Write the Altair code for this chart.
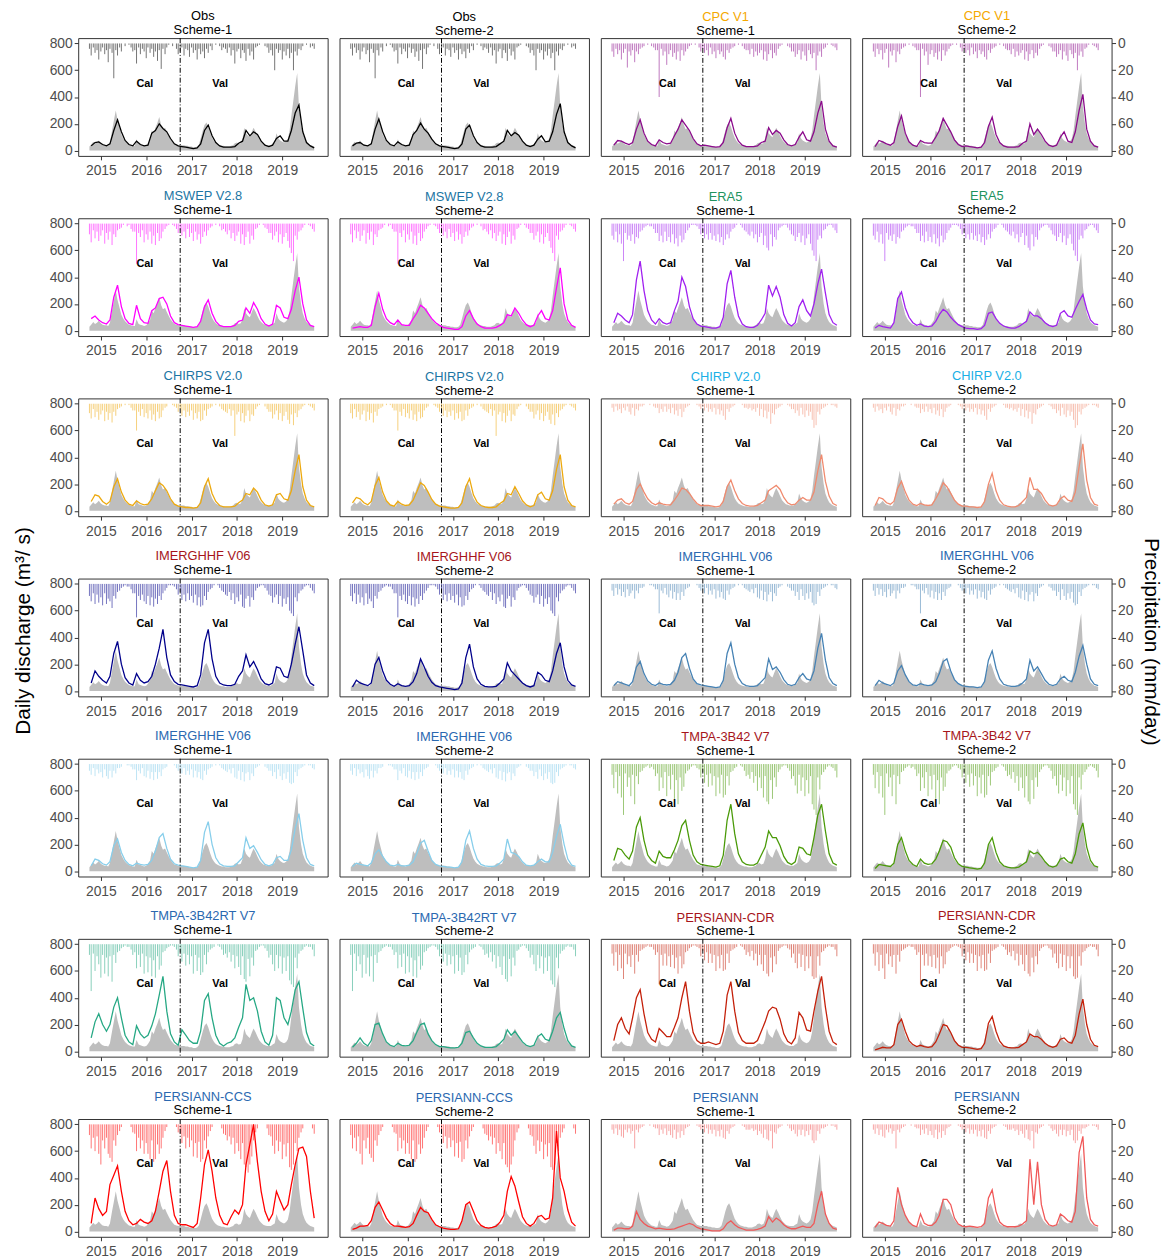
import altair as alt
import numpy as np
import pandas as pd

# ---------------------------------------------------------------------------
# Time axes: rainfall and observed flow every half month, simulations monthly
# ---------------------------------------------------------------------------
half_dates = pd.date_range("2014-10-01", "2019-09-30", freq="SMS")
month_dates = pd.date_range("2014-10-01", periods=60, freq="MS") + pd.Timedelta(days=14)


def dec_year(d):
    days = np.where(d.is_leap_year, 366, 365)
    return d.year + (d.dayofyear - 1) / days


half_t = dec_year(half_dates)
month_t = dec_year(month_dates)

# observed daily discharge (m3/s), hydrological years Oct-Sep
obs_flow = (
    [30, 45, 65, 50, 60, 75, 55, 45, 40, 40, 35, 60, 150, 220, 300, 230, 170, 120, 90, 70, 55, 45, 40, 35]
    + [35, 85, 50, 45, 40, 35, 40, 55, 80, 150, 130, 170, 210, 250, 190, 160, 170, 140, 110, 85, 65, 50, 45, 40]
    + [40, 40, 40, 35, 35, 30, 30, 25, 25, 30, 45, 90, 150, 190, 210, 180, 130, 95, 70, 55, 45, 40, 35, 35]
    + [30, 30, 30, 35, 40, 55, 60, 50, 55, 90, 170, 130, 110, 100, 140, 170, 140, 110, 80, 65, 50, 45, 40, 40]
    + [40, 50, 60, 130, 90, 75, 65, 60, 70, 90, 150, 260, 380, 480, 580, 330, 200, 130, 90, 65, 50, 40, 35, 30]
)

# product name, title colour, series colour
products = [
    ("Obs", "#000000", "#000000"),
    ("CPC V1", "#F5A800", "#8B0A8B"),
    ("MSWEP V2.8", "#1B75A3", "#FF00FF"),
    ("ERA5", "#21925E", "#A020F0"),
    ("CHIRPS V2.0", "#1B75A3", "#EDA90E"),
    ("CHIRP V2.0", "#1AAFE6", "#F08A6E"),
    ("IMERGHHF V06", "#A6151B", "#00008B"),
    ("IMERGHHL V06", "#2A68B0", "#4682B4"),
    ("IMERGHHE V06", "#2A68B0", "#87CEEB"),
    ("TMPA-3B42 V7", "#A6151B", "#4A9A08"),
    ("TMPA-3B42RT V7", "#2A68B0", "#26A884"),
    ("PERSIANN-CDR", "#A6151B", "#C4200A"),
    ("PERSIANN-CCS", "#2A68B0", "#FF0000"),
    ("PERSIANN", "#2A68B0", "#F05858"),
]

# simulated discharge (m3/s), monthly, Oct 2014 - Sep 2019
sim_flow = {
    ("Obs", "Scheme-1"): [
        35, 60, 65, 45, 35, 50, 150, 230, 140, 75, 45, 35,
        70, 45, 35, 40, 130, 150, 200, 165, 140, 90, 50, 35,
        30, 25, 20, 15, 20, 50, 150, 190, 110, 60, 35, 25,
        25, 25, 30, 55, 70, 150, 110, 140, 120, 70, 40, 30,
        40, 90, 110, 70, 70, 150, 280, 340, 140, 60, 35, 20],
    ("Obs", "Scheme-2"): [
        35, 55, 60, 40, 35, 50, 160, 235, 140, 75, 45, 35,
        65, 45, 35, 40, 120, 150, 205, 160, 130, 85, 50, 35,
        30, 25, 20, 15, 20, 50, 160, 190, 110, 60, 35, 25,
        25, 25, 30, 50, 70, 150, 110, 135, 115, 70, 40, 30,
        40, 85, 110, 65, 70, 140, 270, 350, 140, 60, 35, 20],
    ("CPC V1", "Scheme-1"): [
        40, 75, 70, 55, 45, 60, 160, 230, 130, 70, 45, 35,
        80, 60, 50, 55, 110, 160, 230, 190, 150, 90, 50, 35,
        40, 35, 30, 25, 30, 60, 170, 240, 130, 70, 40, 30,
        30, 30, 35, 60, 70, 170, 120, 150, 130, 80, 45, 35,
        45, 100, 140, 80, 70, 140, 280, 370, 160, 70, 35, 25],
    ("CPC V1", "Scheme-2"): [
        30, 75, 65, 50, 40, 60, 180, 260, 130, 65, 40, 30,
        75, 60, 55, 55, 100, 150, 240, 190, 140, 80, 45, 30,
        35, 30, 25, 20, 25, 60, 180, 250, 120, 60, 35, 25,
        25, 25, 30, 55, 70, 200, 120, 160, 120, 70, 40, 30,
        40, 100, 140, 70, 60, 140, 300, 420, 160, 70, 35, 25],
    ("MSWEP V2.8", "Scheme-1"): [
        90, 110, 80, 60, 50, 80, 250, 340, 180, 90, 55, 45,
        190, 90, 60, 55, 150, 170, 240, 250, 200, 110, 60, 45,
        40, 35, 30, 25, 30, 70, 180, 230, 130, 70, 40, 30,
        30, 30, 40, 70, 80, 170, 130, 210, 160, 90, 50, 35,
        50, 190, 170, 100, 90, 160, 300, 400, 200, 80, 40, 30],
    ("MSWEP V2.8", "Scheme-2"): [
        20, 25, 30, 25, 25, 40, 180, 280, 160, 90, 60, 45,
        80, 45, 40, 40, 90, 130, 190, 170, 130, 90, 60, 40,
        25, 20, 15, 10, 10, 30, 110, 150, 90, 50, 30, 20,
        20, 20, 25, 40, 60, 120, 110, 170, 130, 80, 45, 30,
        40, 110, 150, 90, 80, 150, 320, 470, 200, 80, 40, 25],
    ("ERA5", "Scheme-1"): [
        60, 130, 110, 80, 60, 120, 380, 520, 300, 150, 80, 50,
        90, 60, 50, 60, 150, 220, 400, 330, 180, 90, 50, 35,
        30, 25, 20, 20, 30, 100, 350, 450, 250, 110, 50, 30,
        25, 25, 40, 80, 130, 340, 260, 330, 250, 120, 55, 35,
        60, 180, 230, 150, 110, 200, 350, 460, 280, 120, 60, 40],
    ("ERA5", "Scheme-2"): [
        20, 40, 30, 25, 20, 60, 240, 290, 170, 100, 60, 40,
        50, 35, 30, 35, 70, 120, 160, 140, 100, 70, 45, 30,
        20, 15, 15, 10, 15, 40, 130, 140, 90, 55, 35, 25,
        20, 20, 30, 50, 70, 140, 110, 110, 90, 60, 40, 30,
        40, 130, 150, 110, 100, 160, 220, 270, 160, 80, 50, 45],
    ("CHIRPS V2.0", "Scheme-1"): [
        70, 120, 110, 70, 50, 70, 180, 240, 140, 80, 50, 40,
        75, 55, 45, 50, 90, 150, 210, 190, 150, 90, 50, 35,
        30, 25, 25, 20, 25, 60, 180, 240, 130, 70, 40, 30,
        30, 30, 35, 60, 80, 130, 120, 170, 140, 80, 45, 35,
        45, 120, 130, 90, 80, 150, 300, 420, 180, 80, 40, 30],
    ("CHIRPS V2.0", "Scheme-2"): [
        60, 100, 90, 60, 45, 70, 190, 250, 140, 75, 45, 35,
        70, 50, 40, 45, 80, 140, 210, 190, 140, 85, 50, 35,
        30, 25, 20, 20, 25, 60, 180, 240, 120, 65, 40, 30,
        25, 25, 30, 55, 75, 130, 120, 180, 130, 75, 45, 30,
        40, 120, 140, 90, 80, 150, 310, 420, 180, 80, 40, 30],
    ("CHIRP V2.0", "Scheme-1"): [
        50, 80, 90, 60, 50, 70, 160, 200, 140, 90, 60, 45,
        60, 50, 45, 45, 80, 120, 170, 160, 130, 90, 55, 40,
        40, 40, 35, 30, 35, 70, 180, 230, 150, 90, 55, 40,
        35, 35, 40, 60, 80, 150, 170, 190, 160, 100, 60, 45,
        50, 80, 100, 80, 80, 140, 300, 420, 220, 110, 55, 40],
    ("CHIRP V2.0", "Scheme-2"): [
        40, 100, 90, 60, 50, 70, 170, 220, 140, 80, 50, 40,
        55, 45, 40, 45, 90, 140, 210, 180, 130, 80, 50, 35,
        35, 30, 30, 25, 30, 70, 200, 280, 150, 80, 45, 35,
        30, 30, 40, 70, 100, 250, 160, 160, 130, 80, 45, 35,
        45, 90, 110, 80, 70, 140, 330, 500, 230, 100, 50, 40],
    ("IMERGHHF V06", "Scheme-1"): [
        60, 150, 110, 80, 60, 110, 280, 370, 200, 100, 60, 45,
        130, 80, 60, 70, 110, 200, 320, 460, 250, 120, 70, 50,
        45, 40, 35, 30, 40, 120, 360, 460, 240, 110, 60, 45,
        40, 40, 50, 110, 150, 270, 180, 220, 160, 90, 55, 45,
        60, 180, 170, 110, 100, 200, 350, 480, 300, 120, 60, 40],
    ("IMERGHHF V06", "Scheme-2"): [
        30, 80, 60, 50, 40, 60, 200, 250, 150, 80, 50, 35,
        55, 40, 35, 40, 70, 130, 240, 180, 110, 65, 40, 30,
        25, 20, 15, 10, 15, 60, 250, 350, 180, 90, 50, 35,
        30, 30, 35, 60, 90, 210, 150, 120, 90, 60, 40, 30,
        40, 140, 120, 80, 70, 150, 280, 360, 180, 80, 45, 35],
    ("IMERGHHL V06", "Scheme-1"): [
        40, 70, 60, 50, 40, 70, 180, 220, 130, 75, 50, 40,
        60, 50, 45, 50, 80, 140, 250, 280, 170, 90, 55, 45,
        40, 35, 30, 25, 30, 80, 280, 360, 200, 100, 55, 40,
        35, 35, 40, 70, 100, 240, 160, 180, 140, 85, 50, 40,
        50, 100, 130, 90, 80, 150, 320, 430, 230, 100, 55, 40],
    ("IMERGHHL V06", "Scheme-2"): [
        40, 80, 60, 50, 40, 60, 150, 190, 120, 70, 45, 40,
        55, 45, 40, 45, 70, 130, 220, 240, 150, 85, 55, 40,
        35, 30, 30, 25, 30, 70, 230, 300, 170, 90, 50, 40,
        35, 35, 40, 60, 90, 230, 150, 180, 130, 80, 50, 40,
        50, 90, 110, 80, 70, 140, 260, 340, 200, 90, 50, 40],
    ("IMERGHHE V06", "Scheme-1"): [
        40, 90, 80, 55, 45, 70, 190, 240, 140, 80, 50, 40,
        60, 50, 45, 50, 80, 150, 250, 280, 170, 90, 55, 45,
        40, 35, 30, 25, 30, 80, 290, 370, 200, 100, 55, 40,
        35, 35, 40, 70, 100, 250, 170, 190, 140, 85, 50, 40,
        50, 100, 110, 80, 80, 160, 320, 430, 230, 100, 50, 40],
    ("IMERGHHE V06", "Scheme-2"): [
        35, 60, 50, 45, 40, 60, 130, 160, 110, 70, 45, 40,
        50, 40, 40, 45, 70, 130, 210, 230, 150, 80, 50, 40,
        35, 30, 30, 25, 30, 70, 230, 300, 170, 90, 50, 40,
        35, 35, 40, 60, 90, 240, 140, 130, 110, 70, 45, 40,
        45, 70, 90, 70, 70, 140, 260, 350, 200, 90, 45, 35],
    ("TMPA-3B42 V7", "Scheme-1"): [
        80, 170, 160, 120, 90, 150, 330, 400, 230, 120, 80, 60,
        150, 110, 100, 100, 160, 230, 340, 380, 230, 120, 70, 50,
        45, 40, 35, 30, 40, 120, 380, 500, 280, 130, 70, 50,
        45, 45, 60, 120, 180, 300, 250, 250, 190, 110, 65, 50,
        70, 180, 170, 130, 120, 250, 420, 500, 300, 130, 60, 45],
    ("TMPA-3B42 V7", "Scheme-2"): [
        20, 50, 45, 40, 35, 60, 200, 250, 150, 80, 50, 35,
        90, 60, 50, 55, 90, 150, 230, 220, 180, 100, 55, 35,
        30, 25, 20, 15, 20, 60, 200, 250, 140, 70, 40, 30,
        25, 25, 30, 50, 70, 150, 130, 140, 110, 70, 40, 30,
        40, 90, 100, 70, 60, 130, 280, 360, 180, 80, 40, 30],
    ("TMPA-3B42RT V7", "Scheme-1"): [
        100, 220, 280, 200, 150, 200, 330, 400, 250, 120, 70, 50,
        190, 130, 100, 120, 190, 280, 420, 560, 300, 130, 70, 45,
        160, 120, 80, 60, 60, 150, 380, 430, 250, 120, 60, 40,
        60, 70, 100, 180, 250, 500, 380, 400, 300, 150, 70, 45,
        120, 400, 380, 250, 200, 300, 460, 520, 320, 140, 60, 40],
    ("TMPA-3B42RT V7", "Scheme-2"): [
        30, 60, 100, 60, 40, 80, 200, 210, 130, 70, 45, 35,
        60, 45, 40, 45, 80, 140, 200, 210, 130, 80, 50, 35,
        35, 30, 25, 25, 30, 60, 140, 150, 100, 60, 40, 30,
        30, 30, 35, 60, 90, 160, 120, 150, 110, 70, 45, 35,
        45, 110, 130, 90, 80, 150, 250, 290, 170, 80, 40, 30],
    ("PERSIANN-CDR", "Scheme-1"): [
        80, 200, 250, 170, 130, 250, 400, 460, 280, 140, 90, 70,
        170, 140, 110, 110, 180, 250, 400, 520, 300, 140, 80, 60,
        60, 70, 60, 50, 60, 150, 420, 520, 300, 140, 80, 60,
        60, 60, 80, 150, 220, 300, 330, 320, 240, 130, 75, 55,
        100, 290, 250, 160, 150, 300, 450, 560, 330, 150, 70, 50],
    ("PERSIANN-CDR", "Scheme-2"): [
        10, 20, 30, 25, 25, 50, 200, 240, 150, 80, 50, 35,
        45, 35, 30, 35, 70, 130, 200, 190, 140, 80, 45, 30,
        30, 25, 20, 15, 20, 60, 210, 260, 150, 75, 40, 30,
        25, 25, 30, 50, 70, 130, 110, 110, 90, 60, 40, 30,
        40, 90, 100, 70, 60, 120, 280, 390, 200, 90, 45, 35],
    ("PERSIANN-CCS", "Scheme-1"): [
        60, 250, 170, 120, 150, 350, 420, 490, 300, 150, 80, 50,
        60, 90, 70, 60, 80, 150, 300, 450, 530, 300, 120, 60,
        50, 50, 40, 30, 60, 250, 500, 610, 450, 250, 120, 60,
        50, 110, 160, 130, 200, 500, 650, 800, 520, 300, 150, 80,
        130, 300, 230, 160, 200, 350, 500, 620, 630, 560, 300, 100],
    ("PERSIANN-CCS", "Scheme-2"): [
        15, 25, 40, 40, 45, 80, 180, 220, 160, 100, 60, 40,
        40, 35, 30, 35, 60, 120, 180, 150, 140, 90, 50, 35,
        25, 20, 15, 15, 20, 80, 200, 220, 150, 80, 45, 30,
        25, 30, 40, 70, 120, 300, 410, 340, 220, 110, 60, 40,
        60, 110, 120, 90, 100, 250, 750, 400, 300, 160, 70, 40],
    ("PERSIANN", "Scheme-1"): [
        10, 25, 25, 20, 20, 40, 150, 90, 60, 40, 30, 20,
        25, 20, 15, 15, 20, 30, 40, 50, 60, 50, 30, 20,
        15, 10, 5, 5, 5, 20, 60, 80, 50, 30, 20, 10,
        10, 10, 15, 25, 40, 110, 70, 100, 80, 50, 30, 20,
        20, 30, 40, 30, 30, 60, 200, 300, 130, 60, 25, 15],
    ("PERSIANN", "Scheme-2"): [
        30, 70, 60, 45, 40, 80, 330, 200, 120, 70, 45, 35,
        130, 60, 45, 45, 70, 120, 240, 240, 200, 100, 55, 40,
        35, 40, 35, 30, 35, 60, 250, 310, 150, 70, 45, 35,
        35, 35, 40, 55, 80, 540, 200, 520, 200, 90, 50, 40,
        50, 130, 110, 80, 70, 150, 590, 710, 250, 90, 50, 40],
}

# heaviest daily rainfall in each half month (mm/day)
rain = {
    "Obs": [
        4, 9, 3, 7, 5, 12, 6, 3, 8, 5, 14, 4, 7, 26, 5, 9, 3, 6, 0, 2, 0, 1, 3, 6,
        5, 15, 3, 8, 4, 6, 11, 3, 7, 4, 10, 6, 13, 5, 19, 4, 8, 3, 1, 0, 2, 0, 4, 8,
        6, 3, 9, 4, 5, 10, 3, 7, 5, 12, 4, 8, 6, 11, 4, 7, 2, 5, 0, 1, 0, 2, 5, 3,
        4, 7, 3, 9, 5, 15, 6, 4, 11, 5, 7, 13, 4, 9, 6, 12, 3, 2, 1, 0, 0, 2, 3, 7,
        5, 9, 20, 4, 7, 5, 12, 6, 9, 4, 11, 7, 20, 6, 9, 4, 5, 2, 0, 1, 0, 3, 2, 4],
    "CPC V1": [
        6, 10, 4, 8, 5, 12, 7, 4, 18, 6, 9, 5, 14, 6, 8, 4, 3, 2, 0, 1, 0, 2, 3, 5,
        5, 40, 4, 9, 6, 16, 8, 5, 10, 7, 12, 6, 13, 5, 9, 6, 4, 2, 1, 0, 1, 0, 3, 6,
        4, 7, 5, 9, 3, 8, 6, 11, 5, 8, 6, 10, 12, 5, 7, 4, 3, 2, 0, 1, 0, 2, 4, 5,
        5, 8, 4, 10, 6, 9, 7, 5, 12, 6, 13, 8, 5, 11, 7, 9, 4, 2, 1, 0, 0, 2, 3, 6,
        6, 10, 8, 5, 12, 6, 9, 13, 5, 8, 11, 7, 20, 9, 6, 10, 4, 3, 1, 0, 1, 2, 3, 5],
    "MSWEP V2.8": [
        8, 14, 5, 11, 6, 13, 9, 5, 15, 7, 12, 6, 16, 8, 10, 5, 4, 3, 1, 0, 2, 1, 4, 6,
        6, 30, 7, 10, 5, 14, 8, 12, 6, 15, 9, 16, 7, 13, 11, 6, 4, 2, 1, 0, 1, 2, 4, 7,
        5, 9, 6, 11, 4, 10, 7, 13, 6, 12, 8, 15, 10, 6, 9, 5, 3, 2, 0, 1, 0, 2, 5, 4,
        6, 8, 5, 11, 7, 13, 9, 6, 15, 8, 16, 10, 6, 15, 9, 12, 4, 3, 1, 0, 1, 3, 4, 7,
        7, 12, 9, 6, 14, 8, 15, 10, 7, 13, 18, 22, 28, 9, 12, 6, 5, 3, 1, 0, 1, 2, 4, 6],
    "ERA5": [
        9, 12, 6, 14, 8, 15, 28, 7, 12, 9, 13, 8, 15, 10, 11, 6, 5, 3, 2, 1, 2, 2, 4, 7,
        7, 13, 9, 14, 6, 13, 10, 14, 8, 15, 11, 17, 9, 14, 12, 7, 5, 3, 1, 1, 1, 2, 4, 8,
        6, 11, 8, 12, 7, 12, 9, 13, 8, 14, 10, 16, 12, 8, 11, 6, 4, 3, 1, 0, 1, 3, 5, 6,
        8, 9, 6, 11, 8, 14, 10, 7, 16, 9, 18, 20, 8, 17, 10, 12, 5, 3, 2, 1, 1, 3, 5, 8,
        9, 13, 10, 7, 14, 9, 16, 11, 8, 15, 20, 24, 28, 12, 9, 11, 5, 4, 2, 1, 1, 3, 5, 7],
    "CHIRPS V2.0": [
        7, 11, 4, 10, 6, 12, 8, 5, 13, 6, 12, 7, 14, 6, 9, 4, 3, 2, 0, 1, 0, 1, 3, 5,
        5, 20, 6, 9, 4, 10, 7, 11, 5, 12, 8, 13, 6, 11, 10, 5, 3, 2, 0, 0, 1, 2, 3, 6,
        4, 9, 5, 10, 6, 9, 5, 12, 7, 11, 6, 13, 12, 5, 9, 4, 3, 2, 0, 1, 0, 2, 4, 5,
        6, 7, 4, 9, 5, 24, 8, 6, 13, 7, 14, 9, 5, 13, 8, 9, 4, 2, 1, 0, 0, 2, 4, 6,
        6, 11, 8, 5, 12, 7, 13, 9, 6, 12, 15, 8, 16, 7, 10, 5, 4, 2, 1, 0, 1, 2, 3, 5],
    "CHIRP V2.0": [
        3, 6, 2, 5, 4, 7, 3, 5, 2, 6, 8, 3, 9, 4, 5, 2, 2, 1, 0, 0, 1, 0, 2, 3,
        3, 7, 4, 6, 2, 6, 4, 7, 3, 8, 5, 9, 4, 10, 6, 3, 2, 1, 0, 0, 0, 1, 2, 4,
        2, 5, 3, 6, 4, 6, 3, 8, 4, 8, 5, 9, 12, 4, 6, 3, 2, 1, 0, 0, 0, 1, 3, 3,
        4, 3, 5, 4, 6, 3, 9, 4, 10, 5, 11, 6, 15, 7, 8, 4, 3, 2, 1, 0, 0, 1, 2, 4,
        4, 7, 5, 9, 3, 8, 10, 5, 9, 6, 12, 18, 16, 6, 8, 4, 3, 2, 1, 0, 1, 1, 2, 3],
    "IMERGHHF V06": [
        9, 13, 7, 15, 8, 14, 10, 16, 7, 15, 11, 13, 18, 9, 11, 6, 5, 3, 2, 1, 2, 2, 4, 7,
        7, 25, 9, 12, 8, 13, 15, 9, 16, 10, 17, 11, 15, 9, 12, 7, 5, 3, 1, 1, 1, 2, 4, 8,
        6, 12, 8, 13, 7, 12, 9, 14, 8, 16, 10, 17, 16, 9, 12, 6, 4, 3, 1, 0, 1, 3, 5, 6,
        8, 9, 6, 12, 7, 15, 10, 13, 8, 17, 18, 11, 9, 17, 10, 12, 5, 3, 2, 1, 1, 3, 5, 8,
        9, 14, 10, 8, 15, 9, 17, 11, 15, 10, 20, 22, 24, 10, 13, 7, 5, 4, 2, 1, 1, 3, 5, 7],
    "IMERGHHL V06": [
        5, 9, 3, 8, 4, 9, 6, 10, 4, 9, 7, 5, 11, 5, 7, 3, 3, 2, 0, 0, 1, 1, 2, 4,
        4, 22, 5, 7, 3, 8, 10, 5, 11, 6, 12, 7, 12, 6, 9, 4, 3, 2, 0, 0, 0, 1, 3, 5,
        4, 7, 3, 8, 5, 8, 4, 11, 5, 10, 6, 11, 12, 5, 8, 4, 3, 2, 0, 1, 0, 1, 3, 4,
        5, 6, 4, 7, 3, 10, 11, 5, 12, 6, 13, 8, 6, 13, 7, 9, 3, 2, 1, 0, 0, 2, 3, 5,
        5, 9, 6, 12, 4, 9, 12, 7, 11, 6, 14, 16, 15, 6, 9, 4, 3, 2, 1, 0, 1, 1, 3, 4],
    "IMERGHHE V06": [
        5, 8, 3, 9, 4, 7, 6, 10, 4, 9, 11, 5, 10, 5, 7, 3, 3, 2, 0, 0, 1, 1, 2, 4,
        4, 12, 5, 7, 3, 9, 10, 5, 11, 6, 12, 6, 11, 6, 9, 4, 3, 2, 0, 0, 0, 1, 3, 5,
        4, 7, 3, 8, 5, 8, 4, 10, 5, 10, 6, 11, 12, 5, 8, 4, 3, 2, 0, 1, 0, 1, 3, 4,
        5, 6, 4, 7, 3, 10, 11, 5, 12, 6, 13, 7, 6, 12, 7, 9, 3, 2, 1, 0, 0, 2, 3, 5,
        5, 9, 6, 11, 4, 9, 12, 7, 11, 6, 14, 15, 14, 6, 9, 4, 3, 2, 1, 0, 1, 1, 3, 4],
    "TMPA-3B42 V7": [
        8, 18, 6, 22, 9, 25, 38, 7, 17, 10, 24, 8, 30, 9, 15, 6, 5, 3, 2, 1, 3, 2, 4, 9,
        7, 20, 10, 18, 6, 24, 9, 19, 8, 26, 12, 30, 10, 20, 17, 7, 5, 4, 2, 1, 1, 3, 4, 10,
        6, 14, 8, 17, 7, 16, 9, 24, 10, 22, 8, 25, 23, 9, 16, 6, 5, 3, 2, 0, 1, 2, 5, 9,
        8, 11, 6, 14, 9, 20, 10, 18, 25, 9, 28, 30, 12, 26, 10, 17, 6, 4, 2, 1, 1, 3, 5, 11,
        9, 16, 22, 8, 20, 10, 24, 12, 22, 9, 30, 34, 38, 10, 19, 8, 6, 4, 2, 1, 2, 3, 5, 10],
    "TMPA-3B42RT V7": [
        8, 35, 7, 20, 9, 15, 25, 8, 22, 10, 24, 9, 28, 8, 14, 6, 5, 3, 2, 1, 2, 2, 4, 8,
        6, 18, 8, 17, 7, 22, 9, 21, 10, 24, 12, 25, 9, 19, 16, 6, 5, 3, 2, 1, 1, 2, 4, 9,
        6, 13, 7, 16, 8, 15, 9, 22, 8, 20, 10, 23, 21, 8, 15, 6, 4, 3, 2, 0, 1, 2, 4, 8,
        7, 10, 6, 13, 8, 18, 9, 17, 23, 9, 26, 28, 11, 24, 10, 16, 5, 4, 2, 1, 1, 3, 5, 10,
        8, 15, 20, 8, 18, 9, 22, 10, 20, 9, 27, 30, 32, 10, 18, 7, 5, 4, 2, 1, 2, 2, 4, 9],
    "PERSIANN-CDR": [
        7, 16, 6, 20, 8, 18, 26, 7, 15, 9, 17, 8, 22, 8, 13, 5, 4, 3, 2, 1, 2, 2, 4, 8,
        6, 30, 8, 16, 7, 16, 9, 17, 8, 18, 10, 22, 9, 18, 15, 6, 5, 3, 2, 1, 1, 2, 3, 9,
        5, 12, 6, 14, 7, 14, 8, 20, 9, 18, 8, 20, 19, 7, 14, 5, 4, 3, 2, 0, 1, 2, 4, 8,
        6, 9, 5, 12, 7, 16, 8, 15, 20, 8, 22, 24, 10, 21, 9, 15, 5, 3, 2, 1, 1, 3, 4, 10,
        7, 14, 18, 7, 17, 8, 20, 9, 18, 9, 24, 26, 25, 9, 16, 6, 5, 3, 2, 1, 2, 2, 4, 9],
    "PERSIANN-CCS": [
        8, 18, 10, 20, 9, 22, 30, 12, 18, 10, 22, 25, 28, 12, 16, 8, 5, 2, 0, 0, 0, 0, 2, 6,
        7, 20, 10, 18, 12, 22, 14, 22, 26, 12, 28, 26, 15, 22, 18, 10, 5, 2, 0, 0, 0, 0, 2, 6,
        7, 14, 9, 18, 10, 17, 12, 24, 14, 25, 13, 28, 26, 12, 18, 9, 5, 2, 0, 0, 0, 0, 3, 7,
        8, 12, 9, 15, 10, 22, 14, 20, 26, 14, 30, 32, 36, 30, 24, 12, 6, 3, 0, 0, 0, 0, 3, 8,
        9, 16, 22, 12, 20, 13, 26, 15, 24, 14, 32, 34, 30, 14, 20, 10, 6, 3, 0, 0, 0, 0, 3, 7],
    "PERSIANN": [
        4, 7, 3, 8, 4, 9, 10, 4, 6, 3, 7, 5, 18, 4, 6, 3, 2, 1, 0, 0, 1, 0, 2, 3,
        3, 8, 4, 7, 3, 8, 5, 8, 10, 4, 11, 6, 10, 5, 8, 3, 2, 1, 0, 0, 0, 1, 2, 4,
        3, 6, 3, 7, 4, 7, 4, 9, 5, 9, 4, 10, 11, 5, 7, 3, 2, 1, 0, 0, 0, 1, 2, 4,
        4, 4, 3, 5, 4, 8, 5, 7, 10, 4, 11, 12, 5, 18, 6, 7, 3, 2, 1, 0, 0, 1, 3, 5,
        4, 7, 9, 4, 8, 4, 9, 5, 8, 4, 12, 14, 12, 5, 7, 3, 3, 2, 1, 0, 1, 1, 2, 4],
}

schemes = ["Scheme-1", "Scheme-2"]
split_year = 2016.749          # 1 Oct 2016: calibration / validation boundary
period_labels = ["Cal", "Val"]
period_label_x = [2015.97, 2017.63]
period_label_q = [500, 500]

FONT = "Liberation Sans"
PANEL_W, PANEL_H = 252, 119

obs_df = pd.DataFrame({"t": half_t, "q": obs_flow})
split_df = pd.DataFrame({"t": [split_year]})
label_df = pd.DataFrame({"t": period_label_x, "q": period_label_q, "label": period_labels})

x_scale = alt.Scale(domain=[2014.5, 2020.0], nice=False, zero=False)
q_scale = alt.Scale(domain=[-40, 840], nice=False, zero=False)
p_scale = alt.Scale(domain=[-4, 84], nice=False, zero=False, reverse=True)

tick_style = dict(
    labelFont=FONT, labelFontSize=14, labelColor="#4D4D4D",
    tickColor="#333333", tickSize=4, tickWidth=1,
    domain=False, grid=False, title=None,
)
x_axis = alt.Axis(values=[2015, 2016, 2017, 2018, 2019], format="d", orient="bottom",
                  labelPadding=4, **tick_style)
q_axis = alt.Axis(values=[0, 200, 400, 600, 800], orient="left", labelPadding=2, **tick_style)
p_axis = alt.Axis(values=[0, 20, 40, 60, 80], orient="right", labelPadding=2, **tick_style)


def panel(name, title_color, color, scheme, col):
    sim_df = pd.DataFrame({"t": month_t, "q": sim_flow[(name, scheme)]})
    rain_df = pd.DataFrame({"t": half_t, "p": rain[name]})
    xq = alt.X("t:Q", scale=x_scale, axis=x_axis)
    qa = q_axis if col == 0 else None
    pa = p_axis if col == 3 else None

    bars = alt.Chart(rain_df).mark_rule(color=color, opacity=0.55, strokeWidth=1, clip=True).encode(
        x=xq, y=alt.Y("p:Q", scale=p_scale, axis=pa), y2=alt.datum(0)
    )
    area = alt.Chart(obs_df).mark_area(color="#BEBEBE", clip=True).encode(
        x=xq, y=alt.Y("q:Q", scale=q_scale, axis=qa)
    )
    line = alt.Chart(sim_df).mark_line(color=color, strokeWidth=1.3, clip=True).encode(
        x=xq, y=alt.Y("q:Q", scale=q_scale, axis=qa)
    )
    split = alt.Chart(split_df).mark_rule(color="black", strokeWidth=1, strokeDash=[5, 2, 1, 2]).encode(x=xq)
    labels = alt.Chart(label_df).mark_text(font=FONT, fontSize=11, fontWeight="bold", color="black").encode(
        x=xq, y=alt.Y("q:Q", scale=q_scale, axis=qa), text="label:N"
    )
    flow = alt.layer(area, line, split, labels)
    return (
        alt.layer(bars, flow)
        .resolve_scale(y="independent")
        .properties(
            width=PANEL_W,
            height=PANEL_H,
            title=alt.TitleParams(
                text=name, subtitle=scheme, color=title_color, subtitleColor="black",
                font=FONT, subtitleFont=FONT, fontSize=13, subtitleFontSize=13,
                fontWeight="normal", anchor="middle", offset=0, subtitlePadding=1,
            ),
        )
    )


rows = []
for r in range(7):
    cells = []
    col = 0
    for name, tcol, lcol in products[2 * r: 2 * r + 2]:
        for scheme in schemes:
            cells.append(panel(name, tcol, lcol, scheme, col))
            col += 1
    rows.append(alt.hconcat(*cells, spacing=10))

grid = alt.vconcat(*rows, spacing=10)

y_title = alt.Chart(pd.DataFrame({"s": ["Daily discharge (m³/ s)"]})).mark_text(
    angle=270, font=FONT, fontSize=21, color="black"
).encode(x=alt.value(23), y=alt.value(599), text="s:N").properties(
    width=47, height=1230, view=alt.ViewBackground(stroke="transparent")
)
p_title = alt.Chart(pd.DataFrame({"s": ["Precipitation (mm/day)"]})).mark_text(
    angle=90, font=FONT, fontSize=21, color="black"
).encode(x=alt.value(16), y=alt.value(610), text="s:N").properties(
    width=32, height=1230, view=alt.ViewBackground(stroke="transparent")
)

chart = (
    alt.hconcat(y_title, grid, p_title, spacing=0)
    .properties(padding={"left": 0, "top": 2, "right": 0, "bottom": 0}, background="white")
    .configure(font=FONT)
    .configure_view(stroke="#333333", strokeWidth=1)
)

chart.save("out.html", embed_options={"renderer": "svg", "actions": False})
